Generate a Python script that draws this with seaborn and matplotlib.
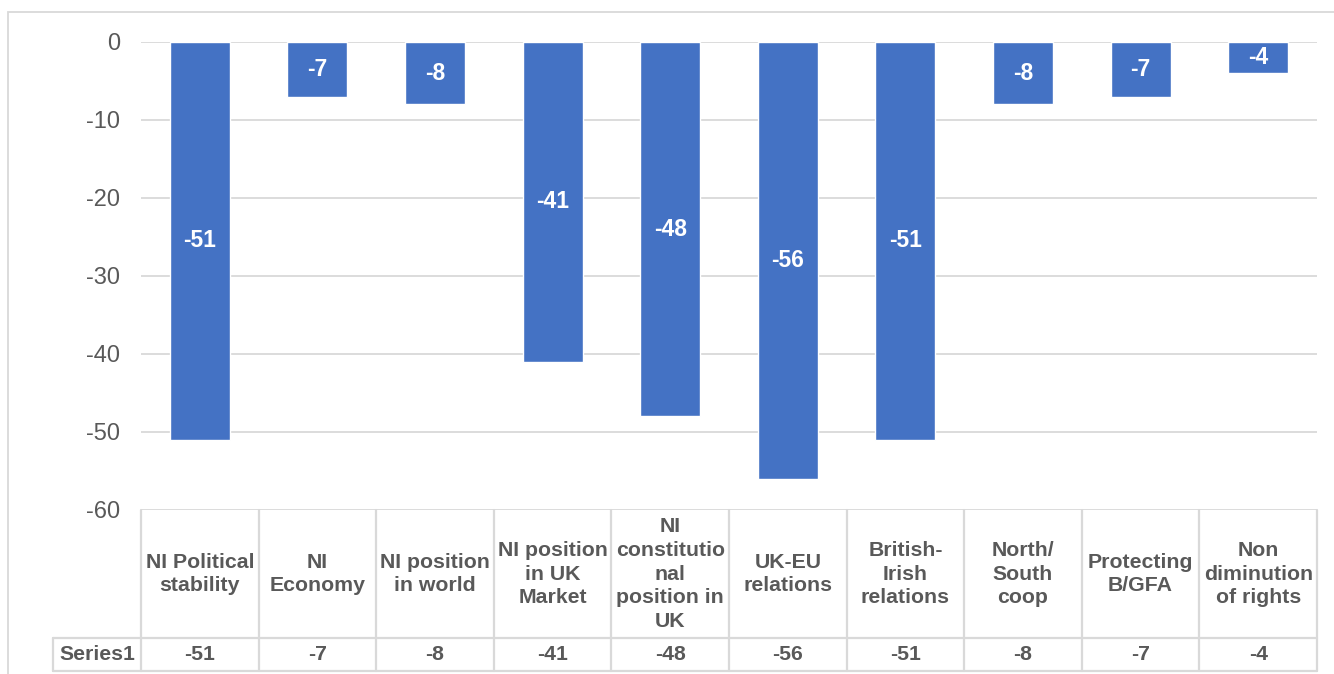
import matplotlib
matplotlib.use("Agg")
import matplotlib.pyplot as plt
import matplotlib.transforms as mtransforms
from matplotlib.patches import Rectangle
from matplotlib.lines import Line2D
import seaborn as sns
import pandas as pd

# Net scores per area
categories = [
    "NI Political\nstability",
    "NI\nEconomy",
    "NI position\nin world",
    "NI position\nin UK\nMarket",
    "NI\nconstitutio\nnal\nposition in\nUK",
    "UK-EU\nrelations",
    "British-\nIrish\nrelations",
    "North/\nSouth\ncoop",
    "Protecting\nB/GFA",
    "Non\ndiminution\nof rights",
]
values = [-51, -7, -8, -41, -48, -56, -51, -8, -7, -4]
series_name = "Series1"
y_ticks = [0, -10, -20, -30, -40, -50, -60]

BAR = "#4472C4"
GRID = "#D9D9D9"
TEXT = "#595959"

sns.set_theme(style="white")
plt.rcParams["font.family"] = ["Liberation Sans", "DejaVu Sans"]

W, H = 1334, 674
fig = plt.figure(figsize=(W / 100, H / 100), dpi=100)


def fx(px):
    return px / W


def fy(py):
    return 1 - py / H


# outer chart frame
fig.patches.append(Rectangle((fx(8), fy(1000)), fx(1400), fy(12) - fy(1000),
                             transform=fig.transFigure, fill=False,
                             edgecolor=GRID, linewidth=1.3))

ax = fig.add_axes([fx(141), fy(510), fx(1317) - fx(141), fy(42) - fy(510)])

df = pd.DataFrame({"cat": categories, "val": values})
sns.barplot(data=df, x="cat", y="val", color=BAR, saturation=1, width=0.51, ax=ax)

ax.set_ylim(-60, 0)
ax.set_xlim(-0.5, len(categories) - 0.5)
ax.set_yticks(y_ticks)
ax.set_yticklabels([str(t) for t in y_ticks], fontsize=17, color=TEXT)
ax.tick_params(axis="y", length=0, pad=15)
ax.set_xticks([])
ax.set_xlabel("")
ax.set_ylabel("")
for s in ax.spines.values():
    s.set_visible(False)
ax.grid(False)
for t in y_ticks:
    ax.axhline(t, color=GRID, linewidth=1.3, zorder=0)
ax.set_axisbelow(True)

for cont in ax.containers:
    ax.bar_label(cont, labels=[str(v) for v in values], label_type="center",
                 color="white", fontsize=16.5, fontweight="bold")

# data table below the plot
tr = mtransforms.blended_transform_factory(ax.transData, fig.transFigure)
row1_top, row1_bot, row2_bot = 510, 638, 671
n = len(categories)


def line(xs, ys, transform):
    fig.add_artist(Line2D(xs, ys, transform=transform, color=GRID, linewidth=1.6))


for i in range(n + 1):
    line([i - 0.5, i - 0.5], [fy(row1_top), fy(row2_bot)], tr)
line([-0.5, n - 0.5], [fy(row1_bot), fy(row1_bot)], tr)
line([-0.5, n - 0.5], [fy(row2_bot), fy(row2_bot)], tr)
line([fx(53), fx(141)], [fy(row1_bot), fy(row1_bot)], fig.transFigure)
line([fx(53), fx(141)], [fy(row2_bot), fy(row2_bot)], fig.transFigure)
line([fx(53), fx(53)], [fy(row1_bot), fy(row2_bot)], fig.transFigure)

for i, (c, v) in enumerate(zip(categories, values)):
    fig.text(i, fy((row1_top + row1_bot) / 2), c, transform=tr, ha="center",
             va="center", ma="center", fontsize=15.3, fontweight="bold",
             color=TEXT, linespacing=1.33)
    fig.text(i, fy((row1_bot + row2_bot) / 2), str(v), transform=tr,
             ha="center", va="center", fontsize=15.3, fontweight="bold", color=TEXT)
fig.text(fx(97), fy((row1_bot + row2_bot) / 2), series_name, ha="center",
         va="center", fontsize=15.3, fontweight="bold", color=TEXT)

fig.savefig("out.png", dpi=100)
